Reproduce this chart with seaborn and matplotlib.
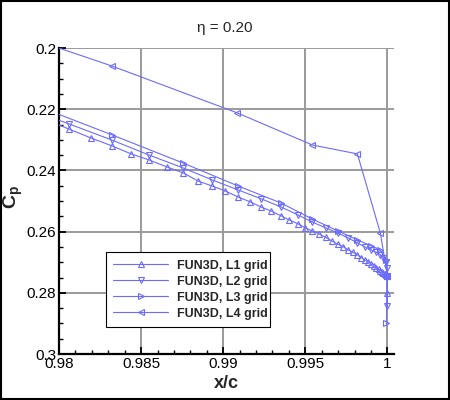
import matplotlib
matplotlib.use("Agg")
import matplotlib.pyplot as plt
import seaborn as sns
import pandas as pd
from matplotlib.patches import Rectangle
from matplotlib.ticker import MultipleLocator, FixedLocator

# ---- data ----
x_l1 = [0.97921, 0.98061, 0.98195, 0.98323, 0.98439, 0.98549, 0.98659, 0.98756, 0.98848,
        0.98933, 0.99012, 0.99091, 0.99165, 0.99232, 0.99293, 0.99354, 0.99402, 0.99457,
        0.99500, 0.99543, 0.99585, 0.99625, 0.99663, 0.99698, 0.99732, 0.99762, 0.99791,
        0.99817, 0.99841, 0.99863, 0.99884, 0.99902, 0.99918, 0.99933, 0.99946, 0.99957,
        0.99967, 0.99976, 0.99983, 0.99989, 0.99994, 0.99997, 0.99999, 1.00000, 1.00000]
cp_l1 = [0.2234, 0.2265, 0.2294, 0.2320, 0.2346, 0.2366, 0.2389, 0.2408, 0.2435,
         0.2451, 0.2467, 0.2487, 0.2503, 0.2520, 0.2533, 0.2549, 0.2562, 0.2575,
         0.2588, 0.2598, 0.2608, 0.2619, 0.2631, 0.2641, 0.2650, 0.2660, 0.2668,
         0.2676, 0.2685, 0.2693, 0.2699, 0.2706, 0.2712, 0.2718, 0.2723, 0.2728,
         0.2731, 0.2735, 0.2737, 0.2740, 0.2742, 0.2743, 0.2744, 0.2745, 0.2801]

x_l2 = [0.97774, 0.98061, 0.98323, 0.98549, 0.98756, 0.98933, 0.99091, 0.99232, 0.99354,
        0.99457, 0.99543, 0.99625, 0.99698, 0.99762, 0.99817, 0.99863, 0.99902, 0.99933,
        0.99957, 0.99976, 0.99989, 0.99997, 1.00000, 1.00000]
cp_l2 = [0.2192, 0.2248, 0.2301, 0.2350, 0.2392, 0.2431, 0.2464, 0.2493, 0.2520,
         0.2546, 0.2569, 0.2588, 0.2605, 0.2621, 0.2637, 0.2650, 0.2660, 0.2668,
         0.2676, 0.2686, 0.2699, 0.2719, 0.2745, 0.2843]

x_l3 = [0.97774, 0.98323, 0.98756, 0.99091, 0.99354, 0.99543, 0.99698, 0.99817,
        0.99902, 0.99957, 0.99989, 1.00000, 0.99994]
cp_l3 = [0.2170, 0.2284, 0.2376, 0.2451, 0.2507, 0.2559, 0.2598, 0.2627,
         0.2647, 0.2660, 0.2693, 0.2745, 0.2899]

x_l4 = [0.96841, 0.98323, 0.99085, 0.99543, 0.99817, 0.99957, 1.00000]
cp_l4 = [0.1789, 0.2059, 0.2212, 0.2317, 0.2346, 0.2605, 0.2745]

labels = ["FUN3D, L1 grid", "FUN3D, L2 grid", "FUN3D, L3 grid", "FUN3D, L4 grid"]
markers = ["^", "v", ">", "<"]
x_ticks = [0.98, 0.985, 0.99, 0.995, 1.0]
x_ticklabels = ["0.98", "0.985", "0.99", "0.995", "1"]
y_ticks = [0.2, 0.22, 0.24, 0.26, 0.28, 0.3]
y_ticklabels = ["0.2", "0.22", "0.24", "0.26", "0.28", "0.3"]
title = "η = 0.20"

# ---- styling ----
sns.set_style("white")
plt.rcParams["font.family"] = ["Liberation Sans", "DejaVu Sans"]
plt.rcParams["mathtext.fontset"] = "custom"
plt.rcParams["mathtext.rm"] = "Liberation Sans"
plt.rcParams["mathtext.bf"] = "Liberation Sans:bold"

color = "#6b6bff"

fig = plt.figure(figsize=(4.5, 4.0), dpi=100)
fig.patch.set_facecolor("white")
ax = fig.add_axes([59 / 450, 46 / 400, 335 / 450, 306 / 400])

series = [(x_l1, cp_l1), (x_l2, cp_l2), (x_l3, cp_l3), (x_l4, cp_l4)]
for (xs, ys), lab, mk in zip(series, labels, markers):
    df = pd.DataFrame({"x": xs, "cp": ys})
    sns.lineplot(data=df, x="x", y="cp", sort=False, estimator=None, ax=ax,
                 color=color, linewidth=0.8, marker=mk, markersize=4.6,
                 markerfacecolor="none", markeredgecolor=color,
                 markeredgewidth=0.8, label=lab, zorder=3)

ax.set_xlim(0.98, 1.0004)
ax.set_ylim(0.3, 0.2)

ax.xaxis.set_major_locator(FixedLocator(x_ticks))
ax.set_xticklabels(x_ticklabels)
ax.yaxis.set_major_locator(FixedLocator(y_ticks))
ax.set_yticklabels(y_ticklabels)
ax.xaxis.set_minor_locator(MultipleLocator(0.001))
ax.yaxis.set_minor_locator(MultipleLocator(0.005))

ax.tick_params(axis="both", which="major", direction="in", length=5, width=1.3,
               labelsize=11, color="black", labelcolor="black", pad=2,
               top=False, right=False)
ax.tick_params(axis="both", which="minor", direction="in", length=3, width=1.0,
               color="black", top=False, right=False)
ax.tick_params(axis="x", which="both", bottom=True)
ax.tick_params(axis="y", which="both", left=True)

ax.grid(True, which="major", color="#9a9a9a", linewidth=1.4)
ax.set_axisbelow(True)

for s in ["top", "right"]:
    ax.spines[s].set_visible(False)
for s in ["left", "bottom"]:
    ax.spines[s].set_color("black")
    ax.spines[s].set_linewidth(1.6)

ax.set_xlabel("")
ax.set_ylabel("")
fig.text(226 / 450, 1 - 383 / 400, "x/c", ha="center", va="center",
         fontsize=13, fontweight="bold")
fig.text(13 / 450, 1 - 197 / 400, r"$\mathbf{C_p}$", ha="center", va="center",
         fontsize=14, rotation=90)
fig.text(225 / 450, 1 - 28 / 400, title, ha="center", va="center", fontsize=11)

leg = ax.legend(loc="upper left", bbox_to_anchor=(0.14, 0.333, 0.49, 0.0),
                mode="expand", frameon=True, fancybox=False, framealpha=1,
                edgecolor="black", prop={"size": 9, "weight": "bold"},
                handlelength=4.4, handletextpad=0.7, labelspacing=0.32,
                borderpad=0.6, borderaxespad=0.0)
leg.get_frame().set_linewidth(0.8)
leg.set_zorder(5)

fig.patches.append(Rectangle((0.002, 0.002), 0.996, 0.996, transform=fig.transFigure,
                             fill=False, edgecolor="black", linewidth=1.5))

fig.savefig("out.png", dpi=100, facecolor="white")
